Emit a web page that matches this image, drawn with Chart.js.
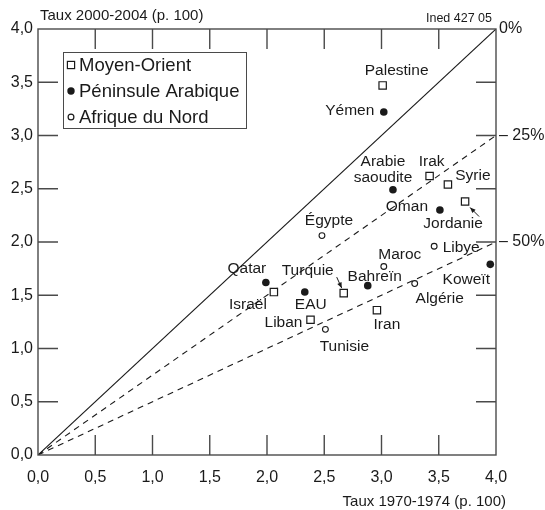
<!DOCTYPE html>
<html lang="fr">
<head>
<meta charset="utf-8">
<title>Taux 1970-1974 et 2000-2004</title>
<script src="https://cdn.jsdelivr.net/npm/chart.js@4.4.1/dist/chart.umd.min.js"></script>
<style>
    html, body { margin: 0; padding: 0; background: #fff; }
    #wrap { width: 545px; height: 510px; }
</style>
</head>
<body>
<div id="wrap"><canvas id="tauxChart" width="545" height="510"></canvas></div>
<script>
// Taux 1970-1974 (x) et 2000-2004 (y), p. 100
const moyenOrientNames = ['Palestine', 'Irak', 'Syrie', 'Jordanie', 'Israël', 'Turquie', 'Iran', 'Liban'];
const moyenOrientX = [3.01, 3.42, 3.58, 3.73, 2.06, 2.67, 2.96, 2.38];
const moyenOrientY = [3.47, 2.62, 2.54, 2.38, 1.53, 1.52, 1.36, 1.27];

const peninsuleNames = ['Yémen', 'Arabie\nsaoudite', 'Oman', 'Qatar', 'EAU', 'Bahreïn', 'Koweït'];
const peninsuleX = [3.02, 3.10, 3.51, 1.99, 2.33, 2.88, 3.95];
const peninsuleY = [3.22, 2.49, 2.30, 1.62, 1.53, 1.59, 1.79];

const afriqueNames = ['Égypte', 'Libye', 'Maroc', 'Algérie', 'Tunisie'];
const afriqueX = [2.48, 3.46, 3.02, 3.29, 2.51];
const afriqueY = [2.06, 1.96, 1.77, 1.61, 1.18];

const tickValues = [0, 0.5, 1, 1.5, 2, 2.5, 3, 3.5, 4];
const reductions = [0, 25, 50];   // % de baisse entre les deux périodes

// label placement relative to each point (px)
const moyenOrientOffsets = [[14, -15], [2, -14], [25, -9], [-12, 22], [-26, 13], [-36, -22], [10, 15], [-27, 3]];
const peninsuleOffsets = [[-34, -1], [-10, -20], [-33, -3], [-19, -14], [6, 13], [7, -9], [-24, 15]];
const afriqueOffsets = [[7, -15], [27, 1], [16, -12], [25, 15], [19, 17]];
// arrows: [dataset, index, from dx, from dy, to dx, to dy]
const arrows = [[0, 3, 14, 15, 5, 6], [0, 5, -7, -16, -2, -5]];

const FONT = '"Liberation Sans", Arial, Helvetica, sans-serif';
const INK = '#1a1a1a';
const AXIS = '#4a4a4a';

function toPoints(xs, ys) {
    return xs.map((x, i) => ({ x: x, y: ys[i] }));
}

function fmt(v) {
    return v.toFixed(1).replace('.', ',');
}

function drawMarker(ctx, style, x, y) {
    ctx.save();
    ctx.lineWidth = 1.2;
    ctx.strokeStyle = INK;
    if (style === 'square') {
        ctx.fillStyle = '#fff';
        ctx.fillRect(x - 3.6, y - 3.6, 7.2, 7.2);
        ctx.strokeRect(x - 3.6, y - 3.6, 7.2, 7.2);
    } else {
        ctx.beginPath();
        ctx.arc(x, y, style === 'dot' ? 3.7 : 2.9, 0, Math.PI * 2);
        ctx.fillStyle = style === 'dot' ? INK : '#fff';
        ctx.fill();
        if (style !== 'dot') ctx.stroke();
    }
    ctx.restore();
}

const decorPlugin = {
    id: 'decor',
    afterDatasetsDraw(chart) {
        const ctx = chart.ctx;
        const area = chart.chartArea;
        const xs = chart.scales.x;
        const ys = chart.scales.y;

        ctx.save();

        // frame and inward ticks on all four sides
        ctx.strokeStyle = AXIS;
        ctx.lineWidth = 1.4;
        ctx.strokeRect(area.left, area.top, area.right - area.left, area.bottom - area.top);
        ctx.beginPath();
        tickValues.slice(1, -1).forEach(v => {
            const px = xs.getPixelForValue(v);
            const py = ys.getPixelForValue(v);
            ctx.moveTo(px, area.bottom); ctx.lineTo(px, area.bottom - 20);
            ctx.moveTo(px, area.top); ctx.lineTo(px, area.top + 20);
            ctx.moveTo(area.left, py); ctx.lineTo(area.left + 20, py);
            ctx.moveTo(area.right, py); ctx.lineTo(area.right - 20, py);
        });
        ctx.stroke();

        // point labels
        ctx.fillStyle = INK;
        ctx.font = '15.5px ' + FONT;
        ctx.textAlign = 'center';
        ctx.textBaseline = 'middle';
        const groups = [
            [moyenOrientNames, moyenOrientOffsets],
            [peninsuleNames, peninsuleOffsets],
            [afriqueNames, afriqueOffsets]
        ];
        groups.forEach((g, di) => {
            const meta = chart.getDatasetMeta(di);
            g[0].forEach((name, i) => {
                const pt = meta.data[i];
                const lines = name.split('\n');
                lines.forEach((line, li) => {
                    const dy = g[1][i][1] + (li - (lines.length - 1) / 2) * 16;
                    ctx.fillText(line, pt.x + g[1][i][0], pt.y + dy);
                });
            });
        });

        // small arrows pointing at crowded points
        ctx.strokeStyle = INK;
        ctx.fillStyle = INK;
        ctx.lineWidth = 1;
        arrows.forEach(a => {
            const pt = chart.getDatasetMeta(a[0]).data[a[1]];
            const x1 = pt.x + a[2], y1 = pt.y + a[3];
            const x2 = pt.x + a[4], y2 = pt.y + a[5];
            const ang = Math.atan2(y2 - y1, x2 - x1);
            ctx.beginPath();
            ctx.moveTo(x1, y1); ctx.lineTo(x2, y2);
            ctx.stroke();
            ctx.beginPath();
            ctx.moveTo(x2, y2);
            ctx.lineTo(x2 - 6 * Math.cos(ang - 0.4), y2 - 6 * Math.sin(ang - 0.4));
            ctx.lineTo(x2 - 6 * Math.cos(ang + 0.4), y2 - 6 * Math.sin(ang + 0.4));
            ctx.closePath();
            ctx.fill();
        });

        // reduction labels at the end of each ray
        ctx.font = '16px ' + FONT;
        ctx.textAlign = 'left';
        reductions.forEach(r => {
            const py = ys.getPixelForValue(4 * (1 - r / 100));
            ctx.fillText(r === 0 ? '0%' : '\u2013 ' + r + '%', area.right + 3, py);
        });

        // axis titles and source
        ctx.font = '15px ' + FONT;
        ctx.fillText('Taux 2000-2004 (p. 100)', area.left + 2, 16);
        ctx.textAlign = 'right';
        ctx.fillText('Taux 1970-1974 (p. 100)', area.right + 10, 502);
        ctx.font = '12.5px ' + FONT;
        ctx.fillText('Ined 427 05', area.right - 4, 19);

        // legend box
        ctx.strokeStyle = AXIS;
        ctx.lineWidth = 1;
        ctx.fillStyle = '#fff';
        ctx.fillRect(63.5, 52.5, 183, 76);
        ctx.strokeRect(63.5, 52.5, 183, 76);
        const legend = [['square', 'Moyen-Orient'], ['dot', 'Péninsule Arabique'], ['ring', 'Afrique du Nord']];
        ctx.font = '18.5px ' + FONT;
        ctx.textAlign = 'left';
        legend.forEach((item, i) => {
            const ly = 65 + i * 26;
            drawMarker(ctx, item[0], 71, ly);
            ctx.fillStyle = INK;
            ctx.fillText(item[1], 79, ly + 1);
        });

        ctx.restore();
    }
};

function ray(ratio, dash) {
    return {
        type: 'line',
        data: [{ x: 0, y: 0 }, { x: 4, y: 4 * ratio }],
        borderColor: INK,
        borderWidth: 1.1,
        borderDash: dash,
        pointRadius: 0,
        fill: false,
        order: 5
    };
}

const ctx = document.getElementById('tauxChart').getContext('2d');
new Chart(ctx, {
    type: 'scatter',
    data: {
        datasets: [
            {
                label: 'Moyen-Orient',
                data: toPoints(moyenOrientX, moyenOrientY),
                pointStyle: 'rect',
                pointRadius: 5.2,
                backgroundColor: '#fff',
                borderColor: INK,
                borderWidth: 1.2,
                order: 1
            },
            {
                label: 'Péninsule Arabique',
                data: toPoints(peninsuleX, peninsuleY),
                pointStyle: 'circle',
                pointRadius: 3.8,
                backgroundColor: INK,
                borderColor: INK,
                borderWidth: 0,
                order: 1
            },
            {
                label: 'Afrique du Nord',
                data: toPoints(afriqueX, afriqueY),
                pointStyle: 'circle',
                pointRadius: 2.9,
                backgroundColor: '#fff',
                borderColor: INK,
                borderWidth: 1.1,
                order: 1
            },
            ray(1, []),
            ray(1 - reductions[1] / 100, [6, 5]),
            ray(1 - reductions[2] / 100, [6, 5])
        ]
    },
    options: {
        responsive: false,
        animation: false,
        layout: { padding: { top: 29, right: 49, left: 0, bottom: 0 } },
        plugins: {
            legend: { display: false },
            tooltip: { enabled: false }
        },
        scales: {
            x: {
                type: 'linear',
                min: 0,
                max: 4,
                afterFit: scale => { scale.height = 55; },
                afterBuildTicks: scale => { scale.ticks = tickValues.map(v => ({ value: v })); },
                grid: { display: false, drawTicks: false },
                border: { display: false },
                ticks: {
                    padding: 13,
                    color: INK,
                    font: { family: FONT, size: 16 },
                    callback: v => fmt(v)
                }
            },
            y: {
                type: 'linear',
                min: 0,
                max: 4,
                afterFit: scale => { scale.width = 38; },
                afterBuildTicks: scale => { scale.ticks = tickValues.map(v => ({ value: v })); },
                grid: { display: false, drawTicks: false },
                border: { display: false },
                ticks: {
                    padding: 5,
                    color: INK,
                    font: { family: FONT, size: 16 },
                    callback: v => fmt(v)
                }
            }
        }
    },
    plugins: [decorPlugin]
});
</script>
</body>
</html>
